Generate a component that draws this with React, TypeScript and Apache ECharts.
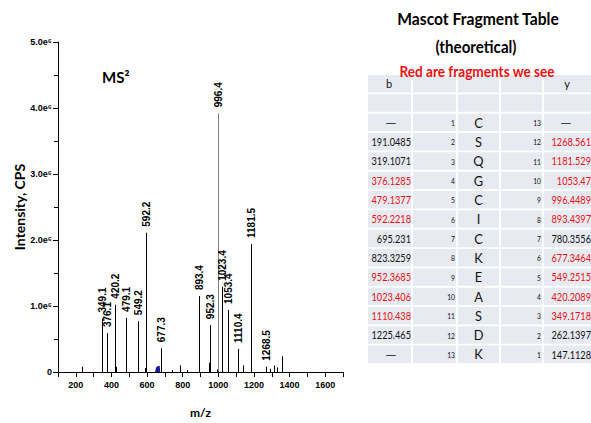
import React, { useEffect, useRef } from "react";
import * as echarts from "echarts";

// ---- Spectrum data (m/z, intensity in cps, label) ----
const peakMz = [236, 349.1, 376.1, 420.2, 423, 479.1, 549.2, 590, 592.2, 677.3, 742, 783, 824, 893.4, 948, 952.3, 990, 996.4, 1023.4, 1053.4, 1110.4, 1141, 1181.5, 1185, 1268.5, 1290, 1310, 1330, 1358];
const peakIntensity = [0.08e6, 0.81e6, 0.59e6, 1.02e6, 0.08e6, 0.82e6, 0.77e6, 0.06e6, 2.11e6, 0.36e6, 0.03e6, 0.1e6, 0.03e6, 1.15e6, 0.14e6, 0.71e6, 0.04e6, 3.92e6, 1.29e6, 0.94e6, 0.35e6, 0.1e6, 1.94e6, 0.03e6, 0.08e6, 0.05e6, 0.1e6, 0.07e6, 0.24e6];
const peakLabels = ["", "349.1", "376.1", "420.2", "", "479.1", "549.2", "", "592.2", "677.3", "", "", "", "893.4", "", "952.3", "", "996.4", "1023.4", "1053.4", "1110.4", "", "1181.5", "", "1268.5", "", "", "", ""];
const grayPeaks = ["996.4"];
const precursorRegion = [[648, 0], [653, 0.07e6], [668, 0.09e6], [671, 0]];

const xTickLabels = [200, 400, 600, 800, 1000, 1200, 1400, 1600];

// ---- Mascot fragment table ----
const bValues = ["—", "191.0485", "319.1071", "376.1285", "479.1377", "592.2218", "695.231", "823.3259", "952.3685", "1023.406", "1110.438", "1225.465", "—"];
const bSeen = [false, false, false, true, true, true, false, false, true, true, true, false, false];
const bIndex = ["1", "2", "3", "4", "5", "6", "7", "8", "9", "10", "11", "12", "13"];
const residues = ["C", "S", "Q", "G", "C", "I", "C", "K", "E", "A", "S", "D", "K"];
const yIndex = ["13", "12", "11", "10", "9", "8", "7", "6", "5", "4", "3", "2", "1"];
const yValues = ["—", "1268.561", "1181.529", "1053.47", "996.4489", "893.4397", "780.3556", "677.3464", "549.2515", "420.2089", "349.1718", "262.1397", "147.1128"];
const ySeen = [false, true, true, true, true, true, false, true, true, true, true, false, false];

const RED = "#ee1111";
const FONT = 'Lato, "Open Sans", sans-serif';

function buildTable() {
  const colX = [368, 413, 458, 501, 544];
  const colW = [43, 43, 41, 41, 56];
  const top0 = 75;
  const pitch = 19.33;
  const cellH = 17.5;
  const els: any[] = [];
  const nRows = 2 + bValues.length;
  for (let r = 0; r < nRows; r++) {
    for (let c = 0; c < 5; c++) {
      els.push({
        type: "rect",
        shape: { x: colX[c], y: top0 + r * pitch, width: colW[c], height: cellH },
        style: { fill: "#e7eaf1" },
        silent: true,
      });
    }
  }
  const cy = (r: number) => top0 + r * pitch + cellH / 2;
  const txt = (text: string, x: number, y: number, align: string, size: number, fill = "#111", sx = 0.8) => ({
    type: "text",
    x,
    y,
    scaleX: sx,
    style: { text, fill, fontSize: size, fontFamily: FONT, align, verticalAlign: "middle" },
    silent: true,
  });
  els.push(txt("b", 389, cy(0), "center", 11, "#111", 1));
  els.push(txt("y", 567, cy(0), "center", 11, "#111", 1));
  for (let i = 0; i < bValues.length; i++) {
    const r = i + 2;
    const b = bValues[i];
    if (b === "—") els.push(txt(b, 391, cy(r), "center", 12, "#111", 1.2));
    else els.push(txt(b, 411, cy(r), "right", 11.5, bSeen[i] ? RED : "#111"));
    els.push(txt(bIndex[i], 455, cy(r) + 1, "right", 7.5, "#111", 0.9));
    els.push(txt(residues[i], 478.5, cy(r), "center", 13.5, "#111", 0.95));
    els.push(txt(yIndex[i], 541, cy(r) + 1, "right", 7.5, "#111", 0.9));
    const y = yValues[i];
    if (y === "—") els.push(txt(y, 566, cy(r), "center", 12, "#111", 1.2));
    else els.push(txt(y, 591, cy(r), "right", 11.5, ySeen[i] ? RED : "#111"));
  }
  const head = (text: string, x: number, y: number, size: number, fill: string, sx: number) => ({
    type: "text",
    x,
    y,
    scaleX: sx,
    style: { text, fill, fontSize: size, fontWeight: "bold", fontFamily: FONT, align: "center", verticalAlign: "middle" },
  });
  els.push(head("Mascot Fragment Table", 478, 18, 16.5, "#000", 0.95));
  els.push(head("(theoretical)", 476, 46, 16.5, "#000", 0.92));
  els.push(head("Red are fragments we see", 477, 71, 14.5, RED, 0.94));
  els.push({ type: "text", x: 102, y: 77, style: { text: "MS²", fill: "#000", fontSize: 15, fontWeight: "bold", fontFamily: FONT, align: "left", verticalAlign: "middle" } });
  return els;
}

export default function App() {
  const ref = useRef<HTMLDivElement>(null);
  useEffect(() => {
    if (!ref.current) return;
    const chart = echarts.init(ref.current, undefined, { renderer: "svg" });
    const data = peakMz.map((m, i) => [m, peakIntensity[i]]);
    chart.setOption({
      animation: false,
      backgroundColor: "#ffffff",
      grid: { left: 58, top: 42, right: 248, bottom: 51 },
      xAxis: {
        type: "value",
        min: 100,
        max: 1700,
        interval: 100,
        name: "m/z",
        nameLocation: "middle",
        nameGap: 34,
        nameTextStyle: { fontSize: 12, fontWeight: "bold", color: "#000", fontFamily: FONT },
        axisLine: { show: true, lineStyle: { color: "#000", width: 1 } },
        axisTick: { show: true, inside: false, length: 5, lineStyle: { color: "#000" } },
        axisLabel: {
          fontSize: 9,
          fontWeight: "bold",
          color: "#000",
          margin: 8,
          formatter: (v: number) => (xTickLabels.indexOf(v) >= 0 ? String(v) : ""),
        },
        splitLine: { show: false },
      },
      yAxis: {
        type: "value",
        min: 0,
        max: 5e6,
        interval: 1e6,
        name: "Intensity, CPS",
        nameLocation: "middle",
        nameRotate: 90,
        nameGap: 31,
        nameTextStyle: { fontSize: 14, fontWeight: "bold", color: "#000", fontFamily: FONT },
        axisLine: { show: true, lineStyle: { color: "#000", width: 1 } },
        axisTick: { show: true, inside: false, length: 5, lineStyle: { color: "#000" } },
        minorTick: { show: true, splitNumber: 2, length: 4, lineStyle: { color: "#000" } },
        axisLabel: {
          fontSize: 9,
          fontWeight: "bold",
          color: "#000",
          margin: 6,
          formatter: (v: number) => (v === 0 ? "0" : (v / 1e6).toFixed(1) + "e⁶"),
        },
        splitLine: { show: false },
      },
      series: [
        {
          type: "line",
          data: precursorRegion,
          symbol: "none",
          lineStyle: { color: "#1a1aa0", width: 1 },
          areaStyle: { color: "#1a1aa0", opacity: 1 },
          z: 1,
        },
        {
          type: "custom",
          data,
          z: 2,
          renderItem: (params: any, api: any) => {
            const x = api.value(0);
            const y = api.value(1);
            const top = api.coord([x, y]);
            const base = api.coord([x, 0]);
            const label = peakLabels[params.dataIndex];
            const px = Math.round(top[0]) + 0.5;
            const children: any[] = [
              {
                type: "line",
                shape: { x1: px, y1: base[1], x2: px, y2: top[1] },
                style: { stroke: grayPeaks.indexOf(label) >= 0 ? "#808080" : "#000", lineWidth: 1 },
              },
            ];
            if (label) {
              children.push({
                type: "text",
                x: px,
                y: top[1] - 6,
                rotation: Math.PI / 2,
                style: { text: label, fill: "#000", fontSize: 10, fontWeight: "bold", fontFamily: "Liberation Sans, Arial, sans-serif", align: "left", verticalAlign: "middle" },
              });
            }
            return { type: "group", children };
          },
        },
      ],
      graphic: buildTable(),
    });
    return () => chart.dispose();
  }, []);
  return <div ref={ref} style={{ position: "fixed", left: 0, top: 0, width: 591, height: 423 }} />;
}
